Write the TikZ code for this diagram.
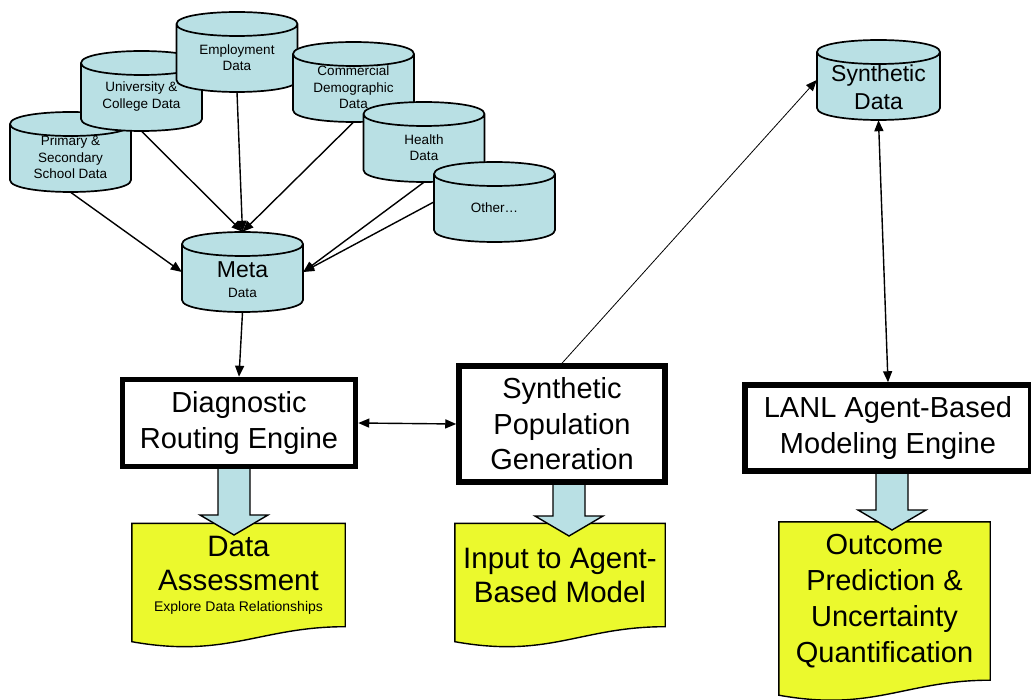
\documentclass[tikz,border=0pt]{standalone}
\usepackage{fontspec}
\setmainfont{Liberation Sans}
\usetikzlibrary{arrows.meta,calc,backgrounds}

\definecolor{diskblue}{RGB}{185,224,228}
\definecolor{sheetyellow}{RGB}{235,249,45}

\tikzset{
  diskline/.style={draw, line width=1.7, fill=diskblue, line join=round},
  disk/.style={inner sep=0, minimum height=80},
  disktext/.style={align=center, inner sep=0, yshift=-5.5,
    font=\fontsize{13.5}{16.5}\selectfont},
  engine/.style={draw, line width=5.5, fill=white, align=center, inner sep=2,
    font=\fontsize{29}{35.5}\selectfont},
  report/.style={align=center, inner sep=0, font=\fontsize{29.5}{34}\selectfont},
  feed/.style={-{Triangle[length=11,width=9]}, line width=1.4},
  twoway/.style={{Triangle[length=11,width=9]}-{Triangle[length=11,width=9]}, line width=1.4},
  flow/.style={draw, line width=1.4, fill=diskblue},
  sheet/.style={draw, line width=1.4, fill=sheetyellow},
}

% data store: name, centre x, centre y, half width, label options, text
\newcommand\datadisk[6]{%
  \draw[diskline] (#2-#4,#3-28) -- (#2-#4,#3+28)
    .. controls (#2-#4,#3+44) and (#2+#4,#3+44) .. (#2+#4,#3+28)
    -- (#2+#4,#3-28)
    .. controls (#2+#4,#3-44) and (#2-#4,#3-44) .. (#2-#4,#3-28) -- cycle
    (#2-#4,#3-28) .. controls (#2-#4,#3-12) and (#2+#4,#3-12) .. (#2+#4,#3-28);
  \node[disk, minimum width=2*#4, label={[disktext,#5]center:#6}] (#1) at (#2,#3) {};}
% wavy-bottomed report sheet behind a node
\newcommand\sheetoutline[1]{%
  \draw[sheet] (#1.north west) -- (#1.north east) -- (#1.south east)
    .. controls +(-85,0) and +(95,17) .. ($(#1.south west)+(0,15)$) -- cycle;}
% fat down arrow: x, top, tip
\newcommand\flowarrow[3]{%
  \draw[flow] (#1-16,#2) -- (#1+16,#2) -- (#1+16,#3-20) -- (#1+34,#3-20)
    -- (#1,#3) -- (#1-34,#3-20) -- (#1-16,#3-20) -- cycle;}

\begin{document}
\begin{tikzpicture}[x=1pt,y=-1pt]
\useasboundingbox (0,0) rectangle (1031,700);

% data stores, back to front
\datadisk{school}{70.5}{152}{60.5}{}{Primary \&\\Secondary\\School Data}
\datadisk{college}{141.5}{91}{60.5}{}{University \&\\College Data}
\datadisk{jobs}{237}{52}{60.5}{}{Employment\\Data}
\datadisk{commerce}{353.5}{82}{60.5}{}{Commercial\\Demographic\\Data}
\datadisk{health}{424}{142}{60.5}{}{Health\\Data}
\datadisk{other}{494.5}{202}{60.5}{}{Other…}
\datadisk{meta}{242.5}{272}{60.5}{yshift=-2.5}{{\fontsize{23}{26}\selectfont Meta}\\[3.5pt]Data}
\datadisk{synth}{878.5}{80}{61.5}{yshift=-1.5, font=\fontsize{23}{28}\selectfont}{Synthetic\\Data}

% engines
\node[engine, minimum width=233, minimum height=87] (dre) at (239,423)
     {Diagnostic\\Routing Engine};
\node[engine, minimum width=206, minimum height=116] (spg) at (562,424)
     {Synthetic\\Population\\Generation};
\node[engine, minimum width=286, minimum height=86] (lanl) at (888,428)
     {LANL Agent-Based\\Modeling Engine};

% outputs
\node[report, minimum width=213, minimum height=103] (assess) at (238.5,575)
     {Data\\Assessment\\[-13pt]{\fontsize{14}{16}\selectfont Explore Data Relationships}};
\node[report, minimum width=210, minimum height=103] (input) at (560,575)
     {Input to Agent-\\Based Model};
\node[report, minimum width=211, minimum height=158, font=\fontsize{29}{36}\selectfont]
     (outcome) at (884.5,601) {Outcome\\Prediction \&\\Uncertainty\\Quantification};

\begin{pgfonlayer}{background}
\sheetoutline{assess}
\sheetoutline{input}
\sheetoutline{outcome}
\flowarrow{234}{466}{535}
\flowarrow{569}{482}{536}
\flowarrow{892}{470}{530}
\end{pgfonlayer}

\draw[feed] (school.south) -- (meta.west);
\draw[feed] (college.south) -- (meta.north);
\draw[feed] (jobs.south) -- (meta.north);
\draw[feed] (commerce.south) -- (meta.north);
\draw[feed] (health.south) -- (meta.east);
\draw[feed] (other.west) -- (meta.east);
\draw[feed] (meta.south) -- (dre.north);
\draw[twoway] (dre.east) -- (spg.west);
\draw[feed, line width=0.8] (spg.north) -- (synth.west);
\draw[twoway] (synth.south) -- (lanl.north);
\end{tikzpicture}
\end{document}
